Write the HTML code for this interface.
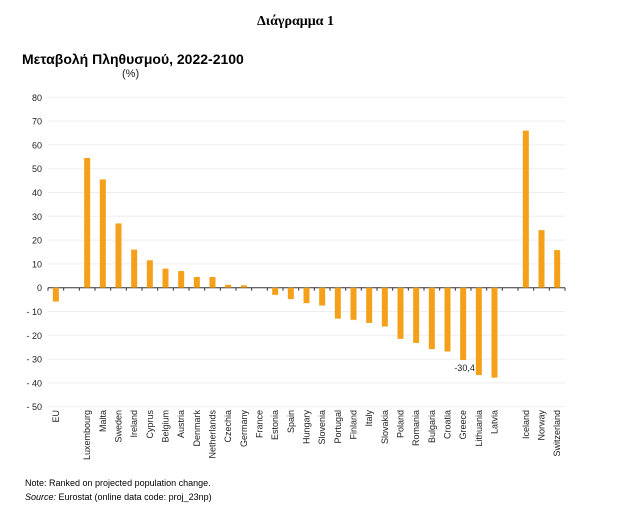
<!DOCTYPE html>
<html><head><meta charset="utf-8"><style>
body{margin:0;background:#fff;width:624px;height:509px;overflow:hidden;position:relative;font-family:"Liberation Sans",sans-serif}
.t{position:absolute;white-space:nowrap}
</style></head><body>
<div class="t" style="left:257px;top:14px;font-family:'Liberation Serif',serif;font-weight:bold;font-size:14px">Διάγραμμα 1</div>
<div class="t" style="left:22px;top:51px;font-weight:bold;font-size:14px">Μεταβολή Πληθυσμού, 2022-2100</div>
<div class="t" style="left:122px;top:68px;font-size:11px;color:#222">(%)</div>
<svg id="chart" width="624" height="509" style="position:absolute;left:0;top:0"></svg>
<div class="t" style="left:25px;top:478px;font-size:9px">Note: Ranked on projected population change.</div>
<div class="t" style="left:25px;top:492px;font-size:9px"><i>Source:</i> Eurostat (online data code: proj_23np)</div>
<script>
const categories=["EU","","Luxembourg","Malta","Sweden","Ireland","Cyprus","Belgium","Austria","Denmark","Netherlands","Czechia","Germany","France","Estonia","Spain","Hungary","Slovenia","Portugal","Finland","Italy","Slovakia","Poland","Romania","Bulgaria","Croatia","Greece","Lithuania","Latvia","","Iceland","Norway","Switzerland"];
const values=[-5.8,null,54.5,45.5,27,16,11.5,8,7,4.5,4.5,1.2,1,0,-3,-4.8,-6.5,-7.5,-13,-13.5,-14.8,-16.3,-21.5,-23.2,-25.8,-26.8,-30.4,-36.7,-37.8,null,66,24.2,15.8];
const ticks=[80,70,60,50,40,30,20,10,0,-10,-20,-30,-40,-50];
const annotLabel="-30,4", annotIndex=26;
const svg=document.getElementById('chart');const NS='http://www.w3.org/2000/svg';
const X0=48,X1=565,Y80=97.3,Y0=287.7;
const y=v=>Y0-(v)*(Y0-Y80)/80;
const slot=(X1-X0)/categories.length;
const xc=i=>X0+slot*(i+0.5);
function mk(t,a){const e=document.createElementNS(NS,t);for(const k in a)e.setAttribute(k,a[k]);svg.appendChild(e);return e;}
ticks.forEach(t=>{
 const g=mk('line',{x1:X0,x2:X1,y1:y(t),y2:y(t),stroke:t===0?'#333':'#eeeeee','stroke-width':1});
 
 
 const l=mk('text',{x:42,y:y(t)+3.5,'text-anchor':'end','font-size':9,fill:'#222','font-family':'Liberation Sans, sans-serif'});
 l.textContent=t<0?'- '+(-t):String(t);
 
 
});
for(let i=0;i<=categories.length;i++){
 const tk=mk('line',{x1:X0+slot*i,x2:X0+slot*i,y1:Y0,y2:Y0+3,stroke:'#333'});
 
 
}
categories.forEach((c,i)=>{
 const v=values[i];
 if(v!==null&&v!==0){
  const r=mk('rect',{x:xc(i)-3,width:6,y:Math.min(y(v),Y0),height:Math.abs(y(v)-Y0),fill:'#f5a01a'});
  
  
 }
 if(c){
  const tx=mk('text',{transform:`translate(${xc(i)+3},410) rotate(-90)`,'text-anchor':'end','font-size':9,fill:'#222','font-family':'Liberation Sans, sans-serif'});
  tx.textContent=c;
  
  
 }
});
const a=mk('text',{x:xc(annotIndex+1)-4,y:y(values[annotIndex])+11,'text-anchor':'end','font-size':9,fill:'#222','font-family':'Liberation Sans, sans-serif'});
a.textContent=annotLabel;


</script>
</body></html>
